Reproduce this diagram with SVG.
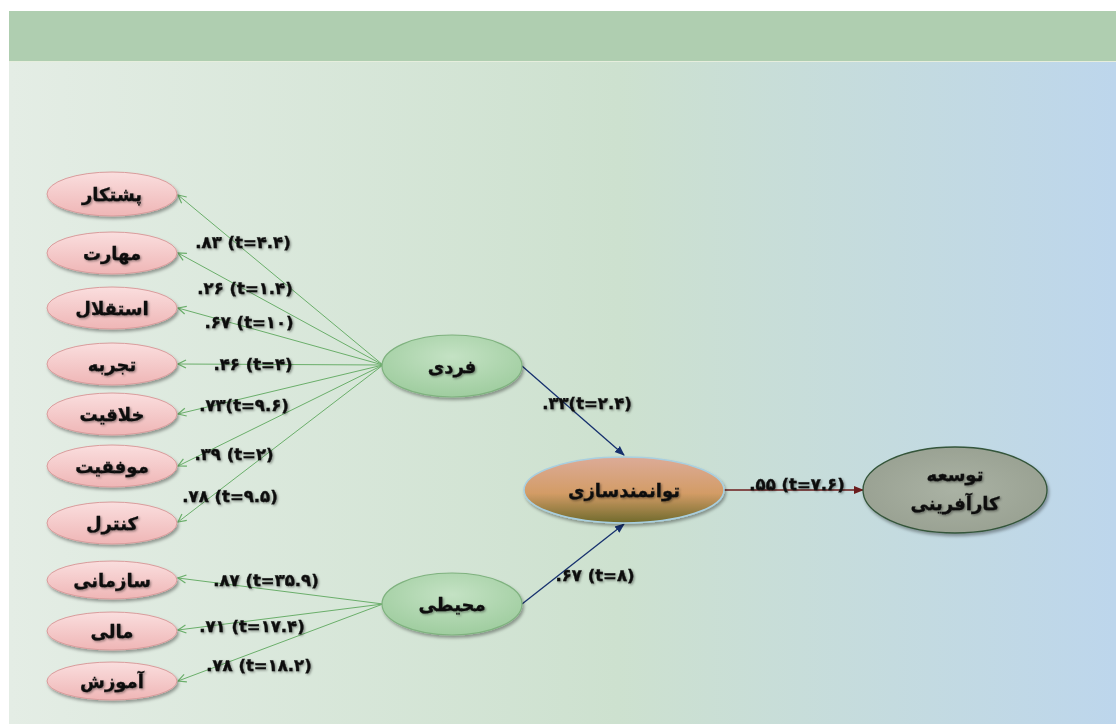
<svg xmlns="http://www.w3.org/2000/svg" width="1116" height="724" viewBox="0 0 1116 724">
<defs>
<linearGradient id="bg" x1="0" y1="0" x2="1" y2="0">
<stop offset="0" stop-color="#e4ede5"/>
<stop offset="0.55" stop-color="#cde1cf"/>
<stop offset="1" stop-color="#bdd6ec"/>
</linearGradient>
<linearGradient id="pink" x1="0" y1="0" x2="0" y2="1">
<stop offset="0" stop-color="#fadede"/>
<stop offset="1" stop-color="#efb6b6"/>
</linearGradient>
<radialGradient id="green" cx="0.5" cy="0.35" r="0.7">
<stop offset="0" stop-color="#c4e2c4"/>
<stop offset="1" stop-color="#9ccb9c"/>
</radialGradient>
<linearGradient id="orange" x1="0" y1="0" x2="0" y2="1">
<stop offset="0" stop-color="#dcab98"/>
<stop offset="0.55" stop-color="#d39c66"/>
<stop offset="1" stop-color="#6f6a2c"/>
</linearGradient>
<radialGradient id="gray" cx="0.5" cy="0.5" r="0.6">
<stop offset="0" stop-color="#aab2a4"/>
<stop offset="1" stop-color="#979f90"/>
</radialGradient>
<filter id="sh" x="-20%" y="-30%" width="140%" height="170%">
<feDropShadow dx="1.5" dy="2.5" stdDeviation="1.5" flood-color="#000" flood-opacity="0.35"/>
</filter>
<filter id="tsh" x="-10%" y="-30%" width="120%" height="160%">
<feDropShadow dx="1.2" dy="1.2" stdDeviation="0.8" flood-color="#000" flood-opacity="0.4"/>
</filter>
<marker id="ag" viewBox="0 0 10 10" refX="9" refY="5" markerWidth="10" markerHeight="10" markerUnits="userSpaceOnUse" orient="auto">
<path d="M1,1 L9,5 L1,9" fill="none" stroke="#6aae6a" stroke-width="1.2"/>
</marker>
<marker id="an" viewBox="0 0 10 10" refX="9" refY="5" markerWidth="10" markerHeight="10" markerUnits="userSpaceOnUse" orient="auto">
<path d="M0,1 L10,5 L0,9 z" fill="#16306e"/>
</marker>
<marker id="ar" viewBox="0 0 10 10" refX="9" refY="5" markerWidth="10" markerHeight="10" markerUnits="userSpaceOnUse" orient="auto">
<path d="M0,1 L10,5 L0,9 z" fill="#6b1d1d"/>
</marker>
</defs>
<style>
.pk{fill:url(#pink);stroke:#d99c9c;stroke-width:1;filter:url(#sh)}
.gn{fill:url(#green);stroke:#7fb27f;stroke-width:1.2;filter:url(#sh)}
.nt{font-family:"DejaVu Sans","Noto Sans",sans-serif;font-weight:bold;font-size:18px;fill:#111;stroke:#111;stroke-width:0.3;text-anchor:middle;filter:url(#tsh)}
.lb{font-family:"DejaVu Sans","Noto Sans",sans-serif;font-weight:bold;font-size:16.5px;fill:#111;stroke:#111;stroke-width:0.4;text-anchor:middle;filter:url(#tsh);direction:ltr;unicode-bidi:bidi-override}
.g{stroke:#6aae6a;stroke-width:1;fill:none;marker-end:url(#ag)}
</style>
<rect x="0" y="0" width="1116" height="724" fill="#ffffff"/>
<rect x="9" y="61" width="1107" height="663" fill="url(#bg)"/>
<rect x="9" y="11" width="1107" height="50" fill="#afceb0"/>
<line x1="9" y1="61.5" x2="1116" y2="61.5" stroke="#e6eedd" stroke-width="1"/>

<g id="connectors">
<line class="g" x1="383" y1="365" x2="178" y2="195"/>
<line class="g" x1="383" y1="365" x2="178" y2="253"/>
<line class="g" x1="383" y1="365" x2="178" y2="308"/>
<line class="g" x1="383" y1="365" x2="178" y2="364"/>
<line class="g" x1="383" y1="365" x2="178" y2="414"/>
<line class="g" x1="383" y1="365" x2="178" y2="466"/>
<line class="g" x1="383" y1="365" x2="178" y2="522"/>
<line class="g" x1="383" y1="604" x2="178" y2="578"/>
<line class="g" x1="383" y1="604" x2="178" y2="630"/>
<line class="g" x1="383" y1="604" x2="178" y2="681"/>
<line x1="522" y1="366" x2="624" y2="455" stroke="#16306e" stroke-width="1.3" marker-end="url(#an)"/>
<line x1="522" y1="604" x2="624" y2="524" stroke="#16306e" stroke-width="1.3" marker-end="url(#an)"/>
<line x1="724" y1="490" x2="863" y2="490" stroke="#6b1d1d" stroke-width="1.3" marker-end="url(#ar)"/>
</g>

<g id="n1"><ellipse class="pk" cx="112" cy="194" rx="65" ry="22"/><text class="nt" x="112" y="201">پشتکار</text></g>
<g id="n2"><ellipse class="pk" cx="112" cy="253" rx="65" ry="21"/><text class="nt" x="112" y="260">مهارت</text></g>
<g id="n3"><ellipse class="pk" cx="112" cy="308" rx="65" ry="21"/><text class="nt" x="112" y="315">استقلال</text></g>
<g id="n4"><ellipse class="pk" cx="112" cy="364" rx="65" ry="21"/><text class="nt" x="112" y="371">تجربه</text></g>
<g id="n5"><ellipse class="pk" cx="112" cy="414" rx="65" ry="21"/><text class="nt" x="112" y="421">خلاقیت</text></g>
<g id="n6"><ellipse class="pk" cx="112" cy="466" rx="65" ry="21"/><text class="nt" x="112" y="473">موفقیت</text></g>
<g id="n7"><ellipse class="pk" cx="112" cy="523" rx="65" ry="21"/><text class="nt" x="112" y="530">کنترل</text></g>
<g id="n8"><ellipse class="pk" cx="112" cy="580" rx="65" ry="19"/><text class="nt" x="112" y="587">سازمانی</text></g>
<g id="n9"><ellipse class="pk" cx="112" cy="631" rx="65" ry="19"/><text class="nt" x="112" y="638">مالی</text></g>
<g id="n10"><ellipse class="pk" cx="112" cy="681" rx="65" ry="19"/><text class="nt" x="112" y="688">آموزش</text></g>

<g id="fardi"><ellipse class="gn" cx="452" cy="366" rx="70" ry="31"/><text class="nt" x="452" y="373">فردی</text></g>
<g id="mohiti"><ellipse class="gn" cx="452" cy="604" rx="70" ry="31"/><text class="nt" x="452" y="611">محیطی</text></g>
<g id="tavan"><ellipse cx="624" cy="490" rx="100" ry="33" fill="url(#orange)" stroke="#a8cfe0" stroke-width="1.5" filter="url(#sh)"/><text class="nt" x="624" y="497">توانمندسازی</text></g>
<g id="tose"><ellipse cx="955" cy="490" rx="92" ry="43" fill="url(#gray)" stroke="#34553a" stroke-width="1.3" filter="url(#sh)"/><text class="nt" x="955" y="481">توسعه</text><text class="nt" x="955" y="510">کارآفرینی</text></g>

<g id="labels">
<text class="lb" x="243" y="248">.۸۳ (t=۴.۴)</text>
<text class="lb" x="245" y="294">.۲۶ (t=۱.۴)</text>
<text class="lb" x="249" y="328">.۶۷ (t=۱۰)</text>
<text class="lb" x="253" y="370">.۴۶ (t=۴)</text>
<text class="lb" x="244" y="411">.۷۳(t=۹.۶)</text>
<text class="lb" x="234" y="460">.۳۹ (t=۲)</text>
<text class="lb" x="230" y="502">.۷۸ (t=۹.۵)</text>
<text class="lb" x="266" y="586">.۸۷ (t=۳۵.۹)</text>
<text class="lb" x="252" y="632">.۷۱ (t=۱۷.۴)</text>
<text class="lb" x="259" y="671">.۷۸ (t=۱۸.۲)</text>
<text class="lb" x="587" y="409">.۳۳(t=۲.۴)</text>
<text class="lb" x="595" y="581">.۶۷ (t=۸)</text>
<text class="lb" x="797" y="490">.۵۵ (t=۷.۶)</text>
</g>
</svg>
